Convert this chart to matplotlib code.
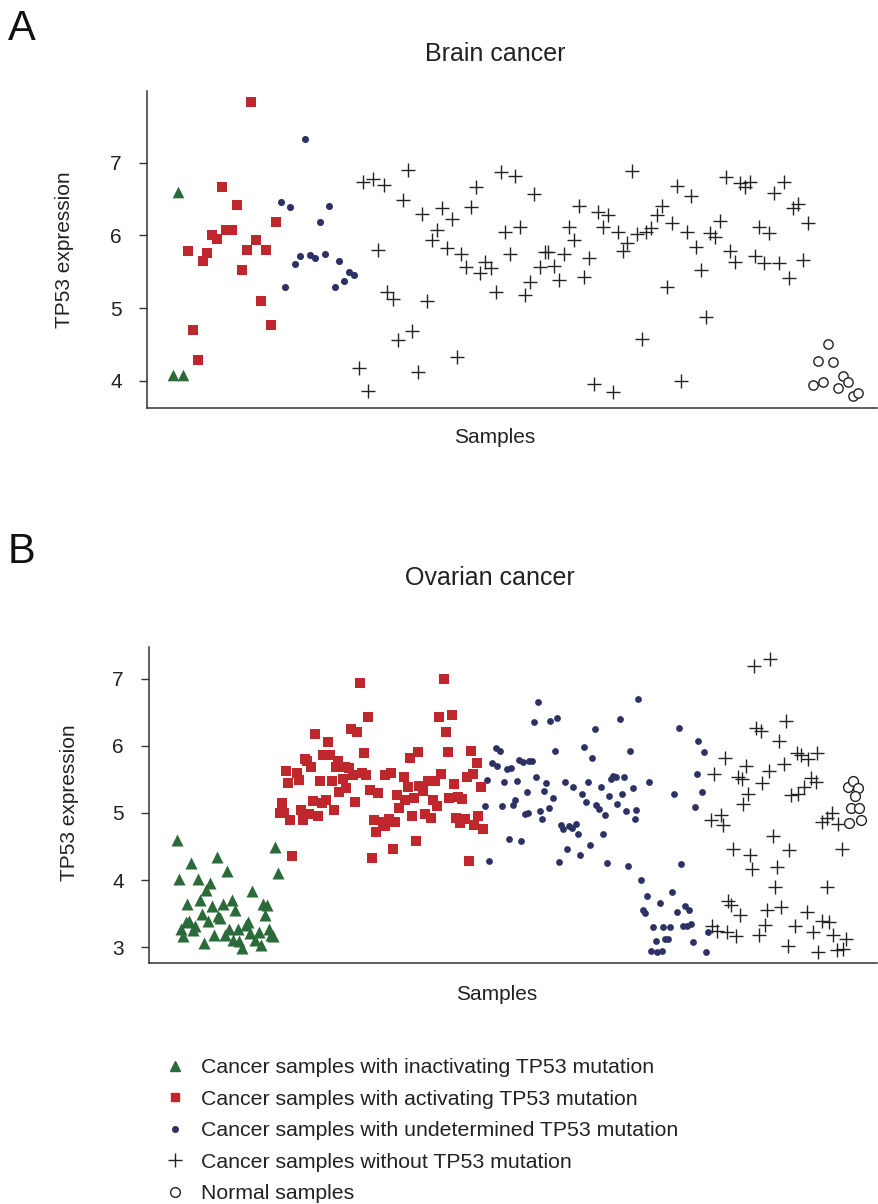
import matplotlib
matplotlib.use("Agg")
import matplotlib.pyplot as plt
from matplotlib.lines import Line2D

plt.rcParams['font.family'] = ['Liberation Sans', 'DejaVu Sans']

# ---------------- Panel A: Brain cancer ----------------
a_inact_x = [31, 26, 36]
a_inact_y = [6.60, 4.08, 4.08]

a_act_x = [104, 75, 90, 129, 79, 85, 65, 70, 109, 41, 60, 100, 119, 56, 95, 114, 124, 46, 51]
a_act_y = [7.83, 6.66, 6.42, 6.19, 6.07, 6.07, 6.00, 5.95, 5.94, 5.79, 5.76, 5.80, 5.80, 5.65,
           5.53, 5.09, 4.77, 4.70, 4.29]

a_und_x = [158, 134, 143, 182, 173, 153, 148, 163, 168, 178, 192, 202, 207, 197, 188, 138]
a_und_y = [7.33, 6.46, 6.39, 6.41, 6.19, 5.71, 5.60, 5.73, 5.69, 5.74, 5.65, 5.50, 5.45, 5.37,
           5.29, 5.29]

a_wt_x = [216, 226, 237, 231, 240, 246, 212, 221, 261, 256, 275, 295, 305, 290, 285, 300, 314,
          319, 333, 338, 344, 349, 324, 329, 354, 368, 387, 358, 373, 363, 378, 383, 393, 398,
          401, 407, 412, 417, 422, 427, 432, 437, 442, 451, 461, 456, 471, 480, 476, 485, 265,
          251, 280, 271, 310, 447, 466, 490, 499, 504, 510, 515, 525, 530, 544, 540, 549, 554,
          520, 559, 495, 534, 573, 563, 568, 579, 593, 598, 603, 583, 588, 608, 617, 632, 642,
          656, 612, 622, 627, 637, 646, 651, 661]
a_wt_y = [6.74, 6.78, 6.69, 5.80, 5.22, 5.13, 4.18, 3.86, 6.90, 6.48, 6.29, 6.38, 6.22, 6.08,
          5.93, 5.83, 5.75, 5.56, 5.48, 5.63, 5.55, 5.22, 6.39, 6.66, 6.87, 6.82, 6.57, 6.04,
          6.11, 5.74, 5.18, 5.36, 5.56, 5.77, 5.77, 5.58, 5.38, 5.75, 6.11, 5.93, 6.41, 5.43,
          5.69, 6.32, 6.28, 6.12, 6.05, 5.89, 5.78, 6.89, 4.69, 4.56, 5.10, 4.12, 4.32, 3.95,
          3.84, 6.02, 6.05, 6.10, 6.28, 6.40, 6.17, 6.68, 6.54, 6.04, 5.84, 5.53, 5.29, 4.88,
          4.57, 3.99, 6.20, 6.03, 5.98, 6.81, 6.72, 6.67, 6.73, 5.78, 5.64, 5.72, 5.62, 5.62,
          5.42, 5.66, 6.11, 6.03, 6.59, 6.73, 6.38, 6.43, 6.17]

a_norm_x = [681, 671, 686, 666, 676, 696, 701, 691, 706, 711]
a_norm_y = [4.51, 4.27, 4.26, 3.94, 3.98, 4.06, 3.98, 3.90, 3.79, 3.83]

# ---------------- Panel B: Ovarian cancer ----------------
b_inact_x = [28, 42, 68, 30, 49, 61, 78, 57, 51, 38, 63, 74, 83, 86, 103, 114, 118, 116, 126,
             129, 53, 69, 71, 59, 37, 40, 46, 32, 44, 34, 55, 65, 76, 80, 89, 97, 99, 84, 90,
             93, 101, 106, 110, 112, 120, 122, 124]
b_inact_y = [4.60, 4.26, 4.35, 4.01, 4.01, 3.96, 4.14, 3.85, 3.71, 3.65, 3.61, 3.64, 3.70, 3.55,
             3.84, 3.64, 3.63, 3.48, 4.50, 4.11, 3.50, 3.46, 3.43, 3.39, 3.38, 3.39, 3.32, 3.27,
             3.26, 3.17, 3.07, 3.19, 3.18, 3.28, 3.27, 3.33, 3.37, 3.11, 3.10, 2.99, 3.21, 3.11,
             3.23, 3.03, 3.28, 3.18, 3.17]

b_act_x = [166, 179, 174, 181, 156, 158, 162, 187, 137, 148, 139, 150, 171, 183, 190, 133, 164,
           173, 177, 185, 131, 135, 152, 160, 169, 141, 154, 143, 211, 295, 219, 290, 303, 297,
           202, 208, 215, 269, 261, 299, 322, 328, 189, 196, 200, 204, 213, 217, 236, 242, 255,
           292, 318, 324, 279, 286, 194, 221, 229, 197, 259, 270, 274, 305, 332, 248, 256, 265,
           284, 300, 309, 313, 206, 288, 250, 263, 276, 282, 225, 234, 240, 246, 227, 236, 307,
           316, 311, 329, 325, 334, 267, 244, 223, 320]
b_act_y = [6.17, 6.05, 5.86, 5.86, 5.80, 5.78, 5.69, 5.69, 5.62, 5.60, 5.45, 5.49, 5.48, 5.47,
           5.32, 5.15, 5.18, 5.15, 5.19, 5.04, 5.00, 5.00, 5.04, 4.99, 4.95, 4.89, 4.89, 4.36,
           6.94, 7.00, 6.43, 6.43, 6.46, 6.20, 6.25, 6.20, 5.90, 5.91, 5.82, 5.91, 5.93, 5.75,
           5.77, 5.68, 5.67, 5.57, 5.60, 5.57, 5.57, 5.60, 5.54, 5.58, 5.53, 5.58, 5.48, 5.48,
           5.50, 5.34, 5.30, 5.37, 5.38, 5.40, 5.33, 5.43, 5.38, 5.27, 5.19, 5.23, 5.19, 5.23,
           5.24, 5.21, 5.17, 5.11, 5.07, 4.95, 4.99, 4.93, 4.90, 4.87, 4.91, 4.87, 4.72, 4.80,
           4.92, 4.91, 4.85, 4.95, 4.82, 4.76, 4.59, 4.46, 4.33, 4.29]

b_und_x = [347, 351, 343, 348, 358, 362, 370, 374, 380, 338, 355, 368, 378, 336, 353, 364, 366,
           376, 379, 360, 372, 340, 389, 489, 385, 401, 408, 446, 471, 530, 549, 406, 435, 443,
           481, 383, 387, 397, 395, 404, 416, 424, 439, 433, 437, 452, 460, 462, 464, 467, 475,
           473, 468, 484, 500, 525, 548, 546, 391, 393, 400, 447, 450, 456, 477, 487, 486, 412,
           414, 420, 427, 423, 429, 454, 441, 418, 431, 410, 458, 479, 532, 492, 498, 523, 511,
           494, 496, 536, 540, 528, 504, 514, 521, 534, 538, 542, 507, 516, 519, 544, 502, 508,
           513, 555, 553, 559, 557]
b_und_y = [5.97, 5.93, 5.75, 5.70, 5.65, 5.67, 5.79, 5.76, 5.77, 5.49, 5.46, 5.47, 5.32, 5.11,
           5.11, 5.12, 5.19, 4.98, 5.00, 4.61, 4.58, 4.28, 6.66, 6.69, 6.36, 6.37, 6.41, 6.25,
           6.40, 6.26, 6.07, 5.92, 5.98, 5.82, 5.93, 5.77, 5.53, 5.45, 5.33, 5.22, 5.46, 5.39,
           5.46, 5.29, 5.17, 5.39, 5.25, 5.50, 5.55, 5.54, 5.53, 5.29, 5.14, 5.37, 5.46, 5.29,
           5.58, 5.09, 5.03, 4.91, 5.07, 5.12, 5.06, 4.97, 5.03, 5.04, 4.91, 4.82, 4.76, 4.81,
           4.83, 4.77, 4.69, 4.68, 4.52, 4.46, 4.38, 4.27, 4.26, 4.21, 4.24, 4.00, 3.76, 3.83,
           3.66, 3.56, 3.51, 3.62, 3.55, 3.53, 3.30, 3.30, 3.30, 3.32, 3.31, 3.34, 3.09, 3.13,
           3.13, 3.08, 2.95, 2.93, 2.95, 5.91, 5.31, 3.23, 2.93]

b_wt_x = [605, 621, 637, 607, 612, 630, 576, 597, 565, 589, 593, 620, 635, 613, 599, 594, 648,
          652, 659, 668, 662, 667, 655, 642, 649, 562, 572, 574, 673, 678, 683, 689, 624, 584,
          601, 640, 693, 603, 628, 626, 678, 579, 582, 591, 618, 632, 658, 616, 610, 563, 568,
          578, 587, 646, 664, 673, 680, 684, 639, 669, 688, 694, 697]
b_wt_y = [7.19, 7.29, 6.37, 6.27, 6.22, 6.07, 5.82, 5.70, 5.58, 5.53, 5.50, 5.63, 5.73, 5.45,
          5.29, 5.14, 5.89, 5.86, 5.80, 5.89, 5.52, 5.46, 5.39, 5.27, 5.29, 4.90, 4.97, 4.82,
          4.87, 4.92, 5.00, 4.83, 4.65, 4.47, 4.37, 4.45, 4.46, 4.16, 4.19, 3.90, 3.90, 3.69,
          3.63, 3.48, 3.56, 3.60, 3.52, 3.33, 3.18, 3.31, 3.24, 3.23, 3.17, 3.31, 3.23, 3.39,
          3.37, 3.18, 3.02, 2.93, 2.96, 2.98, 3.12]

b_norm_x = [699, 704, 709, 706, 702, 710, 700, 712]
b_norm_y = [5.39, 5.47, 5.37, 5.25, 5.08, 5.07, 4.85, 4.90]

labels = ["Cancer samples with inactivating TP53 mutation",
          "Cancer samples with activating TP53 mutation",
          "Cancer samples with undetermined TP53 mutation",
          "Cancer samples without TP53 mutation",
          "Normal samples"]
titles = ["Brain cancer", "Ovarian cancer"]
yticks_a = [4, 5, 6, 7]
yticks_b = [3, 4, 5, 6, 7]

GREEN = '#2b6a3a'
RED = '#c0272d'
NAVY = '#2c3264'
DARK = '#222222'

W, H = 879, 1204
fig = plt.figure(figsize=(W / 100, H / 100), dpi=100)


def fx(px):
    return px / W


def fy(py):
    return 1 - py / H


axA = fig.add_axes([fx(147), fy(408), fx(730), 317 / H])
axB = fig.add_axes([fx(149), fy(963.3), fx(728), 316.6 / H])


def style(ax, ylim, xmax, ticks):
    ax.set_xlim(0, xmax)
    ax.set_ylim(*ylim)
    for s in ['top', 'right']:
        ax.spines[s].set_visible(False)
    for s in ['left', 'bottom']:
        ax.spines[s].set_linewidth(1.1)
        ax.spines[s].set_color('#333333')
    ax.set_xticks([])
    ax.set_yticks(ticks)
    ax.tick_params(axis='y', direction='out', length=6, width=1.0, pad=12,
                   labelsize=15, colors='#333333', labelcolor='#222222')


# Panel A
axA.scatter(a_wt_x, a_wt_y, marker='+', s=110, c=DARK, linewidths=1.0, zorder=3)
axA.scatter(a_norm_x, a_norm_y, marker='o', s=45, facecolors='white', edgecolors=DARK,
            linewidths=1.0, zorder=3)
axA.scatter(a_und_x, a_und_y, marker='o', s=26, c=NAVY, linewidths=0, zorder=3)
axA.scatter(a_act_x, a_act_y, marker='s', s=55, c=RED, linewidths=0, zorder=3)
axA.scatter(a_inact_x, a_inact_y, marker='^', s=70, c=GREEN, linewidths=0, zorder=3)
style(axA, (3.624, 7.987), 730, yticks_a)

# Panel B
axB.scatter(b_wt_x, b_wt_y, marker='+', s=110, c=DARK, linewidths=1.0, zorder=3)
axB.scatter(b_norm_x, b_norm_y, marker='o', s=50, facecolors='white', edgecolors=DARK,
            linewidths=1.0, zorder=3)
axB.scatter(b_und_x, b_und_y, marker='o', s=24, c=NAVY, linewidths=0, zorder=3)
axB.scatter(b_act_x, b_act_y, marker='s', s=60, c=RED, linewidths=0, zorder=3)
axB.scatter(b_inact_x, b_inact_y, marker='^', s=75, c=GREEN, linewidths=0, zorder=3)
style(axB, (2.762, 7.476), 728, yticks_b)

# Text
fig.text(fx(8), fy(40), 'A', fontsize=30, ha='left', va='baseline', color='#111111')
fig.text(fx(8), fy(563), 'B', fontsize=30, ha='left', va='baseline', color='#111111')
fig.text(fx(495), fy(61), titles[0], fontsize=18, ha='center', va='baseline', color='#222222')
fig.text(fx(490), fy(585), titles[1], fontsize=18, ha='center', va='baseline', color='#222222')
fig.text(fx(495), fy(443), 'Samples', fontsize=15, ha='center', va='baseline', color='#222222')
fig.text(fx(497), fy(1000), 'Samples', fontsize=15, ha='center', va='baseline', color='#222222')
fig.text(fx(65), fy(250), 'TP53 expression', fontsize=15, rotation=90, ha='center', va='center',
         color='#222222')
fig.text(fx(70), fy(803), 'TP53 expression', fontsize=15, rotation=90, ha='center', va='center',
         color='#222222')

# Legend
handles = [
    Line2D([], [], ls='none', marker='^', ms=7.5, mfc=GREEN, mec=GREEN),
    Line2D([], [], ls='none', marker='s', ms=6, mfc=RED, mec=RED),
    Line2D([], [], ls='none', marker='o', ms=4, mfc=NAVY, mec=NAVY),
    Line2D([], [], ls='none', marker='+', ms=10, mec=DARK, mew=1.0),
    Line2D([], [], ls='none', marker='o', ms=7, mfc='white', mec=DARK, mew=1.0),
]
fig.legend(handles, labels, loc='upper left', bbox_to_anchor=(fx(164.6), fy(1058)),
           frameon=False, fontsize=15.3, handlelength=1.0, handletextpad=0.72,
           labelspacing=0.59, borderpad=0, borderaxespad=0, labelcolor='#222222')

fig.savefig('out.png', dpi=100)
